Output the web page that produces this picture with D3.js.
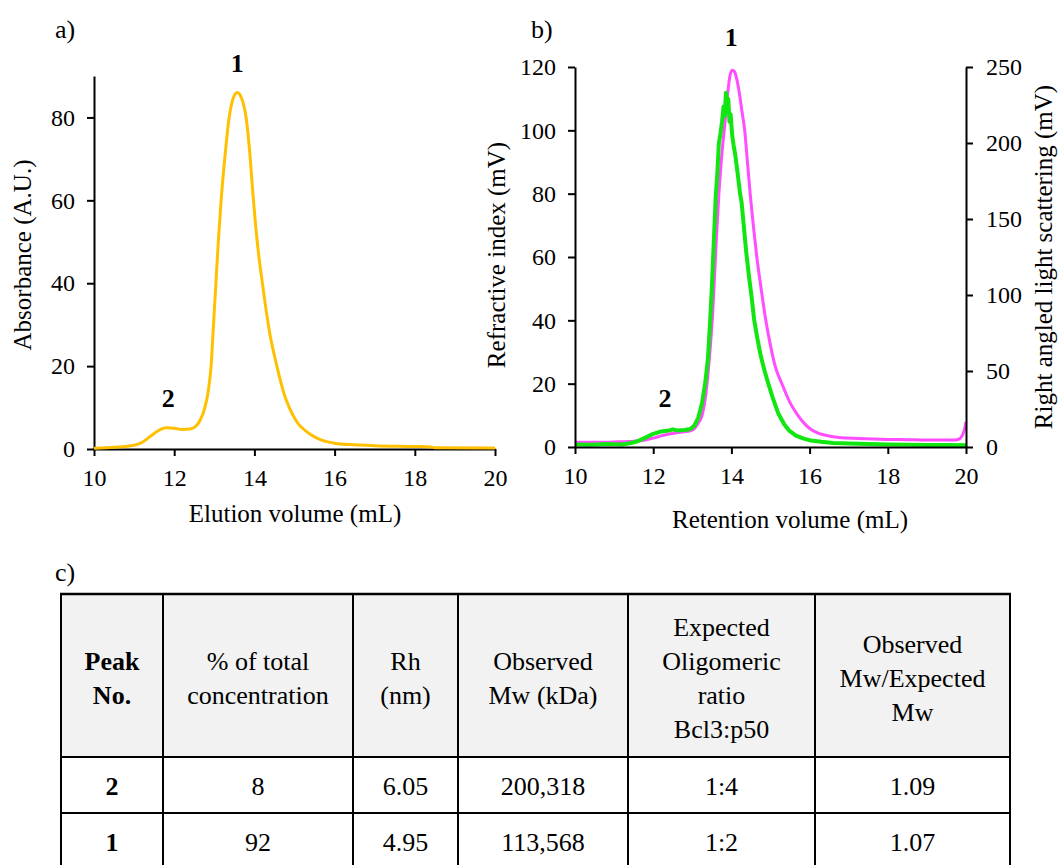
<!DOCTYPE html>
<html>
<head>
<meta charset="utf-8">
<script src="https://cdn.jsdelivr.net/npm/d3@7/dist/d3.min.js"></script>
<style>
  html, body { margin: 0; padding: 0; background: #fff; }
  svg { display: block; }
</style>
</head>
<body>
<svg id="chart" width="1060" height="865"></svg>
<script>
// ---------- Data ----------
// Panel a: UV absorbance trace
const uvVolume = [10.0,10.5,11.0,11.2,11.4,11.6,11.8,12.0,12.2,12.4,12.55,12.65,12.75,12.85,12.92,12.98,13.04,13.1,13.17,13.27,13.37,13.45,13.51,13.57,13.65,13.72,13.8,13.88,13.96,14.05,14.13,14.2,14.3,14.4,14.5,14.56,14.65,14.75,14.87,15.0,15.1,15.2,15.4,15.66,16.0,16.5,17.0,18.0,18.4,18.5,20.0];
const uvAbs    = [0.2,0.4,0.9,1.6,3.0,4.4,5.1,5.0,4.7,4.8,5.6,7,9.5,14,20,30,40,50,60,71,80,84,85.5,86,85.3,83.5,79.5,72,62,52,45,40,33,27,22.5,20,16.5,13,10,7.5,6,5,3.5,2.2,1.4,1.0,0.8,0.6,0.5,0.3,0.25];

// Panel b: refractive index (left axis)
const riVolume = [10.0,10.5,11.0,11.5,11.8,12.0,12.2,12.4,12.6,12.8,12.95,13.05,13.15,13.25,13.35,13.45,13.52,13.6,13.68,13.76,13.84,13.9,13.96,14.02,14.08,14.14,14.2,14.27,14.34,14.41,14.48,14.56,14.65,14.76,14.88,15.0,15.12,15.29,15.5,15.7,15.9,16.04,16.25,16.5,16.75,17.25,18.0,18.5,19.0,19.5,19.72,19.82,19.9,19.96,20.0];
const riSignal = [1.5,1.5,1.6,1.8,2.2,2.8,3.5,4.1,4.5,4.8,5.1,5.8,7.5,10,17,30,42,62,80,93,103,111,117,119,118.5,116,112,106,100,90,80,70,60,50,40,32,25.5,20,14,10,7,5.5,4.2,3.5,3.0,2.7,2.4,2.3,2.2,2.2,2.2,2.5,3.5,5.5,8];

// Panel b: right angled light scattering (right axis)
const lsVolume = [10.0,10.4,10.8,11.2,11.4,11.6,11.8,12.0,12.2,12.4,12.5,12.6,12.8,12.95,13.05,13.15,13.25,13.33,13.4,13.45,13.5,13.55,13.6,13.64,13.68,13.72,13.76,13.8,13.83,13.86,13.89,13.92,13.95,13.98,14.02,14.06,14.1,14.16,14.22,14.26,14.3,14.38,14.46,14.52,14.58,14.66,14.75,14.85,14.94,15.05,15.2,15.35,15.47,15.65,15.85,16.03,16.3,16.6,17.0,17.5,18.0,18.5,19.0,19.5,20.0];
const lsSignal = [1.6,1.4,1.9,1.7,2.4,3.8,6.2,8.6,10.2,10.8,11.6,10.9,11.2,11.8,14,19,29,42,58,80,105,135,165,180,200,206,214,224,218,233,226,229,214,219,205,198,192,180,167,161,150,128,110,98,84,72,60,50,42,33,22,15,11,7.5,5.5,4.3,3.4,2.6,2.3,1.9,1.6,1.5,1.3,1.3,1.2];

// Axis ticks
const volumeTicks = [10,12,14,16,18,20];
const uvTicks = [0,20,40,60,80];
const riTicks = [0,20,40,60,80,100,120];
const lsTicks = [0,50,100,150,200,250];

// Peak labels
const uvPeakLabels = [{label:"1", v:13.57, y:86}, {label:"2", v:11.85, y:5.1}];
const bPeakLabels  = [{label:"1", v:14.05, y:119}, {label:"2", v:12.35, y:5}];

// Table c
const tableHeaders = [
  ["Peak","No."],
  ["% of total","concentration"],
  ["Rh","(nm)"],
  ["Observed","Mw (kDa)"],
  ["Expected","Oligomeric","ratio","Bcl3:p50"],
  ["Observed","Mw/Expected","Mw"]
];
const peakNo       = ["2","1"];
const pctTotal     = ["8","92"];
const rhNm         = ["6.05","4.95"];
const observedMw   = ["200,318","113,568"];
const oligoRatio   = ["1:4","1:2"];
const mwRatio      = ["1.09","1.07"];

// ---------- Drawing ----------
const FONT = "'Liberation Serif', 'Times New Roman', serif";
const svg = d3.select("#chart");
svg.append("rect").attr("width",1060).attr("height",865).attr("fill","#fff");

const tickFont = "24px";
const titleFont = "25px";

function styleAxis(g) {
  g.attr("font-family", "Liberation Serif").attr("font-size", tickFont);
  g.selectAll("path.domain").attr("stroke","#000").attr("stroke-width",2);
  g.selectAll(".tick line").attr("stroke","#000").attr("stroke-width",2);
  g.selectAll(".tick text").style("font-family",FONT).style("font-size",tickFont).attr("fill","#000");
}
function txt(sel) { return sel.style("font-family", FONT).attr("fill","#000"); }

// ----- Panel a -----
const ax = d3.scaleLinear().domain([10,20]).range([94,495]);
const ay = d3.scaleLinear().domain([0,90]).range([449,76]);

const gaX = svg.append("g").attr("transform","translate(0,449)")
  .call(d3.axisBottom(ax).tickValues(volumeTicks).tickSize(7).tickPadding(13).tickSizeOuter(0));
styleAxis(gaX);
const gaY = svg.append("g").attr("transform","translate(94,0)")
  .call(d3.axisLeft(ay).tickValues(uvTicks).tickSize(7).tickPadding(12).tickSizeOuter(0));
styleAxis(gaY);

const uvData = uvVolume.map((v,i)=>[v, uvAbs[i]]);
svg.append("path").datum(uvData)
  .attr("fill","none").attr("stroke","#FFC000").attr("stroke-width",3)
  .attr("stroke-linejoin","round")
  .attr("d", d3.line().x(d=>ax(d[0])).y(d=>ay(d[1])).curve(d3.curveMonotoneX));

txt(svg.selectAll("text.uvpk").data(uvPeakLabels).enter().append("text")
  .attr("class","uvpk")
  .attr("x", d=>ax(d.v)).attr("y", d=>ay(d.y) - 21)
  .attr("text-anchor","middle").style("font-size","26px").style("font-weight","bold")
  .text(d=>d.label));

txt(svg.append("text").attr("x",55).attr("y",38).style("font-size","26px").text("a)"));
txt(svg.append("text").attr("transform","translate(31,255) rotate(-90)")
  .attr("text-anchor","middle").style("font-size",titleFont).text("Absorbance (A.U.)"));
txt(svg.append("text").attr("x",295).attr("y",522)
  .attr("text-anchor","middle").style("font-size",titleFont).text("Elution volume (mL)"));

// ----- Panel b -----
const bx = d3.scaleLinear().domain([10,20]).range([575,966]);
const byL = d3.scaleLinear().domain([0,120]).range([447,67]);
const byR = d3.scaleLinear().domain([0,250]).range([447,67]);

const lsData = lsVolume.map((v,i)=>[v, lsSignal[i]]);
const riData = riVolume.map((v,i)=>[v, riSignal[i]]);

svg.append("path").datum(riData)
  .attr("fill","none").attr("stroke","#FF4DFF").attr("stroke-width",3)
  .attr("stroke-linejoin","round")
  .attr("d", d3.line().x(d=>bx(d[0])).y(d=>byL(d[1])).curve(d3.curveMonotoneX));
svg.append("path").datum(lsData)
  .attr("fill","none").attr("stroke","#11E611").attr("stroke-width",4)
  .attr("stroke-linejoin","round")
  .attr("d", d3.line().x(d=>bx(d[0])).y(d=>byR(d[1])));

const gbX = svg.append("g").attr("transform","translate(0,447)")
  .call(d3.axisBottom(bx).tickValues(volumeTicks).tickSize(7).tickPadding(13).tickSizeOuter(0));
styleAxis(gbX);
const gbY = svg.append("g").attr("transform","translate(575,0)")
  .call(d3.axisLeft(byL).tickValues(riTicks).tickSize(7).tickPadding(12).tickSizeOuter(0));
styleAxis(gbY);
const gbR = svg.append("g").attr("transform","translate(966,0)")
  .call(d3.axisRight(byR).tickValues(lsTicks).tickSize(7).tickPadding(13).tickSizeOuter(0));
styleAxis(gbR);

txt(svg.selectAll("text.bpk").data(bPeakLabels).enter().append("text")
  .attr("class","bpk")
  .attr("x", d=>bx(d.v) - 2).attr("y", d=>byL(d.y) - 24)
  .attr("text-anchor","middle").style("font-size","26px").style("font-weight","bold")
  .text(d=>d.label));

txt(svg.append("text").attr("x",531).attr("y",38).style("font-size","26px").text("b)"));
txt(svg.append("text").attr("transform","translate(505,255) rotate(-90)")
  .attr("text-anchor","middle").style("font-size",titleFont).text("Refractive index (mV)"));
txt(svg.append("text").attr("transform","translate(1052,257) rotate(-90)")
  .attr("text-anchor","middle").style("font-size",titleFont).text("Right angled light scattering (mV)"));
txt(svg.append("text").attr("x",790).attr("y",528)
  .attr("text-anchor","middle").style("font-size",titleFont).text("Retention volume (mL)"));

// ----- Panel c: table -----
txt(svg.append("text").attr("x",55).attr("y",581).style("font-size","26px").text("c)"));

const colEdges = [61,163,353,458,628,815,1010];
const rowEdges = [594,757,813,869];
const tableBody = [peakNo, pctTotal, rhNm, observedMw, oligoRatio, mwRatio];
const tg = svg.append("g");

tg.append("rect").attr("x",colEdges[0]).attr("y",rowEdges[0])
  .attr("width",colEdges[6]-colEdges[0]).attr("height",rowEdges[1]-rowEdges[0])
  .attr("fill","#F2F2F2");

// header text
const lh = 34;
tableHeaders.forEach((lines,ci)=>{
  const cx = (colEdges[ci]+colEdges[ci+1])/2;
  const cy = (rowEdges[0]+rowEdges[1])/2 + 2;
  lines.forEach((ln,li)=>{
    txt(tg.append("text").attr("x",cx)
      .attr("y", cy + (li-(lines.length-1)/2)*lh)
      .attr("dy","0.35em").attr("text-anchor","middle")
      .style("font-size","26px").style("font-weight", ci===0 ? "bold" : "normal")
      .text(ln));
  });
});
// body text
for (let r=0; r<2; r++) {
  const cy = (rowEdges[r+1]+rowEdges[r+2])/2 + 1;
  tableBody.forEach((col,ci)=>{
    const cx = (colEdges[ci]+colEdges[ci+1])/2;
    txt(tg.append("text").attr("x",cx).attr("y",cy).attr("dy","0.35em")
      .attr("text-anchor","middle").style("font-size","26px")
      .style("font-weight", ci===0 ? "bold" : "normal").text(col[r]));
  });
}
// grid lines
colEdges.forEach(x=>{
  tg.append("line").attr("x1",x).attr("x2",x).attr("y1",rowEdges[0]).attr("y2",rowEdges[3])
    .attr("stroke","#000").attr("stroke-width",2);
});
rowEdges.forEach(y=>{
  tg.append("line").attr("x1",colEdges[0]-1).attr("x2",colEdges[6]+1).attr("y1",y).attr("y2",y)
    .attr("stroke","#000").attr("stroke-width", y===rowEdges[0] ? 2.5 : 2);
});
</script>
</body>
</html>
